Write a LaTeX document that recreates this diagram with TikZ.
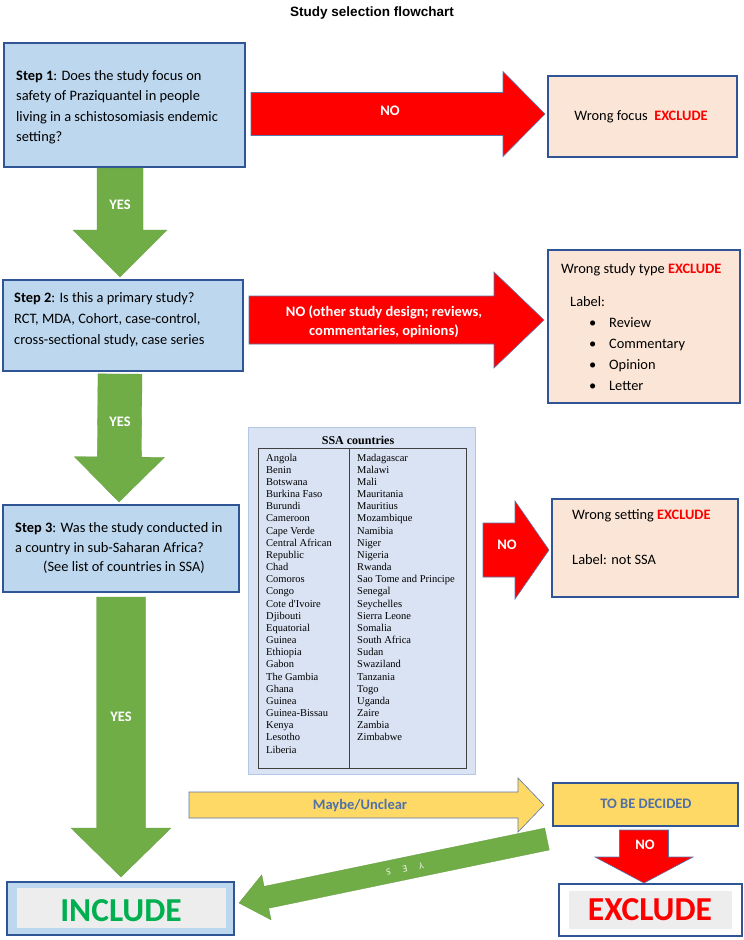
\documentclass[tikz,border=0pt]{standalone}
\usepackage{fontspec}
\setmainfont{Carlito}
\newfontfamily\arialfont{Liberation Sans}
\newfontfamily\timesfont{Liberation Serif}
\usetikzlibrary{calc}
\definecolor{boxblue}{HTML}{BDD7EE}
\definecolor{bordblue}{HTML}{2F5597}
\definecolor{peach}{HTML}{FBE5D6}
\definecolor{arrred}{HTML}{FF0000}
\definecolor{arrgreen}{HTML}{70AD47}
\definecolor{yel}{HTML}{FFD966}
\definecolor{labblue}{HTML}{4F71A6}
\definecolor{exred}{HTML}{FF0000}
\definecolor{incgreen}{HTML}{00B050}
\definecolor{ssafill}{HTML}{DAE3F3}
\definecolor{ssabord}{HTML}{B4C7E7}
\definecolor{tabline}{HTML}{404040}
\definecolor{greyin}{HTML}{EDEDED}
% #1 name, #2 style, #3 x1, #4 y1, #5 x2, #6 y2
\newcommand\boxnode[6]{%
  \node[#2, minimum width={#5-#3}, minimum height={#6-#4}, inner sep=0pt] (#1) at ({(#3+#5)/2},{(#4+#6)/2}) {};}
% #1 style, #2 start, #3 tip, #4 half shaft, #5 half head, #6 head length
\newcommand\blockarrow[6]{%
  \coordinate (bah) at ($(#3)!#6pt!(#2)$);
  \path[#1] ($(#2)!#4pt!90:(#3)$) -- ($(bah)!#4pt!90:(#3)$) -- ($(bah)!#5pt!90:(#3)$) -- (#3)
    -- ($(bah)!#5pt!-90:(#3)$) -- ($(bah)!#4pt!-90:(#3)$) -- ($(#2)!#4pt!-90:(#3)$) -- cycle;}
\begin{document}
\begin{tikzpicture}[x=1pt,y=-1pt,
  stepbox/.style={draw=bordblue, line width=1.5pt, fill=boxblue},
  peachbox/.style={draw=bordblue, line width=1.5pt, fill=peach},
  redarrow/.style={fill=arrred, draw=bordblue!80, line width=0.6pt},
  greenarrow/.style={fill=arrgreen, draw=arrgreen!90!black, line width=0.3pt},
  yelarrow/.style={fill=yel, draw=bordblue!80, line width=0.6pt},
  body/.style={font=\fontsize{14.4}{#1}\selectfont, inner sep=0pt, anchor=base west, align=left},
  body/.default=20.5,
  arrlabel/.style={font=\bfseries\fontsize{14.5}{19}\selectfont, text=white, inner sep=0pt, align=center},
  countries/.style={font=\timesfont\fontsize{10.5}{12.17}\selectfont, inner sep=0pt, anchor=base west, align=left},
  bigword/.style={font=\bfseries\fontsize{33.5}{36}\selectfont, inner sep=0pt},
  bluelabel/.style={font=\bfseries\fontsize{14.5}{16}\selectfont, text=labblue, inner sep=0pt},
]
\useasboundingbox[fill=white] (0,0) rectangle (744,940);

\node[font=\arialfont\bfseries\fontsize{13.5}{16}\selectfont] (title) at (372,13) {Study selection flowchart};

% Step 1 (anchor = baseline of last line)
\boxnode{s1}{stepbox}{4}{43}{245}{167}
\node[body] (s1t) at (16,141.5) {\textbf{Step 1}: Does the study focus on\\safety of Praziquantel in people\\living in a schistosomiasis endemic\\setting?};

% NO arrow 1
\coordinate (n1s) at (251,114);
\coordinate (n1t) at (545,114);
\blockarrow{redarrow}{n1s}{n1t}{21.5}{42.5}{42}
\node[arrlabel] (n1l) at (390,111) {NO};

\boxnode{f1}{peachbox}{548}{76}{737}{157}
\node[body, anchor=base] (f1t) at (641,120.5) {Wrong focus\ \ \textbf{\color{exred}EXCLUDE}};

% YES arrow 1
\coordinate (g1s) at (120,168);
\coordinate (g1t) at (120,277);
\blockarrow{greenarrow}{g1s}{g1t}{23}{47}{47}
\node[arrlabel] (g1l) at (120,205) {YES};

% Step 2
\boxnode{s2}{stepbox}{3}{280}{243}{371}
\node[body=21] (s2t) at (14,344.5) {\textbf{Step 2}: Is this a primary study?\\RCT, MDA, Cohort, case-control,\\cross-sectional study, case series};

% NO arrow 2
\coordinate (n2s) at (249,320);
\coordinate (n2t) at (544,320);
\blockarrow{redarrow}{n2s}{n2t}{24}{48}{50}
\node[arrlabel, anchor=base] (n2l) at (384,335.5) {NO (other study design; reviews,\\commentaries, opinions)};

\boxnode{f2}{peachbox}{548}{250}{740}{403}
\node[body] (f2a) at (561,273.5) {Wrong study type \textbf{\color{exred}EXCLUDE}};
\node[body] (f2b) at (570,306.5) {Label:};
\node[body=21] (f2c) at (589,390.5) {\makebox[20pt][l]{•}Review\\\makebox[20pt][l]{•}Commentary\\\makebox[20pt][l]{•}Opinion\\\makebox[20pt][l]{•}Letter};

% YES arrow 2
\coordinate (g2s) at (120,374);
\coordinate (g2t) at (119,502);
\blockarrow{greenarrow}{g2s}{g2t}{22}{45}{45}
\node[arrlabel] (g2l) at (120,422) {YES};

% SSA countries
\boxnode{ssa}{draw=ssabord, line width=1pt, fill=ssafill}{248}{427}{475}{774}
\boxnode{tab}{draw=tabline, line width=0.9pt}{258}{448}{466}{768}
\coordinate (divt) at (349,448);
\coordinate (divb) at (349,768);
\draw[tabline, line width=0.9pt] (divt) -- (divb);
\node[font=\timesfont\bfseries\fontsize{12}{14}\selectfont, anchor=base] (ssat) at (358,444.5) {SSA countries};
\node[countries] (colA) at (266,753.1) {Angola\\Benin\\Botswana\\Burkina Faso\\Burundi\\Cameroon\\Cape Verde\\Central African\\Republic\\Chad\\Comoros\\Congo\\Cote d'Ivoire\\Djibouti\\Equatorial\\Guinea\\Ethiopia\\Gabon\\The Gambia\\Ghana\\Guinea\\Guinea-Bissau\\Kenya\\Lesotho\\Liberia};
\node[countries] (colB) at (357,740.9) {Madagascar\\Malawi\\Mali\\Mauritania\\Mauritius\\Mozambique\\Namibia\\Niger\\Nigeria\\Rwanda\\Sao Tome and Principe\\Senegal\\Seychelles\\Sierra Leone\\Somalia\\South Africa\\Sudan\\Swaziland\\Tanzania\\Togo\\Uganda\\Zaire\\Zambia\\Zimbabwe};

% Step 3
\boxnode{s3}{stepbox}{3}{505}{239}{592}
\node[body=19.5] (s3t) at (15,571.5) {\textbf{Step 3}: Was the study conducted in\\a country in sub-Saharan Africa?\\\hspace*{28pt}(See list of countries in SSA)};

% NO arrow 3
\coordinate (n3s) at (483,550);
\coordinate (n3t) at (549,550);
\blockarrow{redarrow}{n3s}{n3t}{27}{49}{34}
\node[arrlabel] (n3l) at (507,545) {NO};

\boxnode{f3}{peachbox}{552}{499}{738}{597}
\node[body] (f3a) at (572,519.5) {Wrong setting \textbf{\color{exred}EXCLUDE}};
\node[body] (f3b) at (572,564.5) {Label: not SSA};

% YES arrow 3
\coordinate (g3s) at (121,597);
\coordinate (g3t) at (121,877);
\blockarrow{greenarrow}{g3s}{g3t}{24.5}{50}{49}
\node[arrlabel] (g3l) at (121,717) {YES};

% Maybe / unclear
\coordinate (ys) at (189,805);
\coordinate (yt) at (544,805);
\blockarrow{yelarrow}{ys}{yt}{13}{27}{26}
\node[bluelabel] (yl) at (360,806) {Maybe/Unclear};

\boxnode{tbd}{draw=bordblue, line width=1.5pt, fill=yel}{553}{783}{738}{826}
\node[bluelabel] (tbdt) at (646,804) {TO BE DECIDED};

% NO arrow down
\coordinate (n4s) at (644,830);
\coordinate (n4t) at (644,883);
\blockarrow{redarrow}{n4s}{n4t}{24.5}{49}{26}
\node[arrlabel] (n4l) at (645,845) {NO};

% YES diagonal
\coordinate (g4s) at (547,839);
\coordinate (g4t) at (239,903);
\blockarrow{greenarrow}{g4s}{g4t}{11.2}{23}{28}
\node[font=\fontsize{9.5}{10}\selectfont, text=white!90!arrgreen, inner sep=0pt, rotate=191.7] (g4l) at (405,869) {Y\hspace{12pt}E\hspace{12pt}S};

% INCLUDE
\boxnode{inc}{draw=bordblue, line width=2.5pt, fill=boxblue}{7}{882}{234}{935}
\boxnode{inci}{fill=greyin}{17}{888}{226}{928}
\node[bigword, text=incgreen] (inct) at (121,911) {INCLUDE};

% EXCLUDE
\boxnode{exc}{draw=bordblue, line width=2.5pt, fill=white}{559}{884}{742}{936}
\boxnode{exci}{fill=greyin}{569}{891}{732}{929}
\node[bigword, text=exred] (exct) at (650,910) {EXCLUDE};
\end{tikzpicture}
\end{document}
